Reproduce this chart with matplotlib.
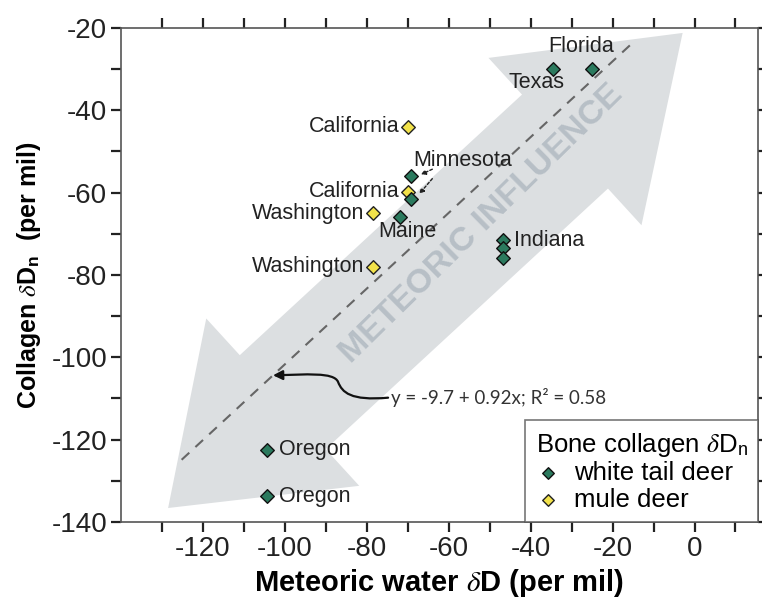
import numpy as np
import matplotlib
matplotlib.use("Agg")
import matplotlib.pyplot as plt
from matplotlib.patches import Polygon, FancyArrowPatch
from matplotlib.path import Path

plt.rcParams['font.family'] = ['Liberation Sans', 'DejaVu Sans']
plt.rcParams['mathtext.fontset'] = 'stix'

# ---- data ----
wt_labels = ["Florida", "Texas", "Minnesota", "", "Maine", "Indiana", "", "", "Oregon", "Oregon"]
wt_x = [-25.0, -34.5, -69.2, -69.2, -72.0, -46.7, -46.7, -46.7, -104.4, -104.4]
wt_y = [-30.0, -30.0, -56.0, -61.5, -66.0, -71.5, -73.5, -75.8, -122.4, -133.8]

md_labels = ["California", "California", "Washington", "Washington"]
md_x = [-70.0, -70.0, -78.5, -78.5]
md_y = [-44.0, -59.8, -65.0, -78.0]

fit_intercept = -9.7
fit_slope = 0.92
fit_r2 = 0.58
fit_xrange = [-125.2, -14.4]

x_ticks = list(range(-130, 11, 10))
x_ticklabels = ["" if t % 20 else str(t) for t in x_ticks]
y_ticks = list(range(-140, -19, 10))
y_ticklabels = ["" if t % 20 else str(t) for t in y_ticks]

GREEN = '#2b7a5e'
YELLOW = '#f2e24a'

fig = plt.figure(figsize=(7.62, 6.04), dpi=100)
ax = fig.add_axes([121/762, 1-522/604, (758-121)/762, (522-28)/604])
ax.set_xlim(-140, 15.5)
ax.set_ylim(-140, -20)

# big double-headed arrow (decoration)
def double_arrow(p0, p1, hw_shaft, hw_head, hl0, hl1):
    p0 = np.array(p0, float); p1 = np.array(p1, float)
    d = p1 - p0
    u = d / np.hypot(*d)
    n = np.array([-u[1], u[0]])
    b0 = p0 + u * hl0
    b1 = p1 - u * hl1
    return [p0, b0 + n*hw_head, b0 + n*hw_shaft, b1 + n*hw_shaft, b1 + n*hw_head,
            p1, b1 - n*hw_head, b1 - n*hw_shaft, b0 - n*hw_shaft, b0 - n*hw_head]

verts = double_arrow((-128.5, -136.6), (-2.9, -21.2), 15.5, 27.6, 38, 39)
ax.add_patch(Polygon(verts, closed=True, facecolor='#dcdfe1', edgecolor='none', zorder=1))
ax.text(-52.0, -67.5, "METEORIC INFLUENCE", rotation=44.5, rotation_mode='anchor',
        ha='center', va='center', fontsize=24.5, fontweight='bold', color='#b7bfc6', zorder=1.5)

# regression line
fx = np.array(fit_xrange)
ax.plot(fx, fit_intercept + fit_slope * fx, ls=(0, (5, 4)), color='#666666', lw=1.5, zorder=2)

# points
ax.scatter(md_x, md_y, marker='D', s=48, facecolor=YELLOW, edgecolor='#222222', linewidth=1.0,
           zorder=3, label='mule deer')
ax.scatter(wt_x, wt_y, marker='D', s=48, facecolor=GREEN, edgecolor='#111111', linewidth=1.0,
           zorder=4, label='white tail deer')

# point labels (offsets in points)
wt_offsets = {0: (-8, 16, 'center'), 1: (-12, -9.5, 'center'), 2: (1.5, 11.5, 'left'),
              4: (-15, -10, 'left'), 5: (8, 0, 'left'), 8: (9, 0, 'left'), 9: (9, 0, 'left')}
for i, lab in enumerate(wt_labels):
    if not lab:
        continue
    dx, dy, ha = wt_offsets[i]
    ax.annotate(lab, (wt_x[i], wt_y[i]), xytext=(dx, dy), textcoords='offset points',
                ha=ha, va='center', fontsize=15.5, color='#222222', zorder=5)
for i, lab in enumerate(md_labels):
    ax.annotate(lab, (md_x[i], md_y[i]), xytext=(-6, 0), textcoords='offset points',
                ha='right', va='center', fontsize=15.5, color='#222222', zorder=5)

# small dashed pointers from Minnesota label
for (x0, y0), (x1, y1) in [((-64.0, -54.3), (-66.8, -55.6)), ((-64.0, -56.6), (-67.2, -60.3))]:
    ax.annotate("", xy=(x1, y1), xytext=(x0, y0),
                arrowprops=dict(arrowstyle='-|>', linestyle=(0, (2, 1.5)), lw=1.0, color='#222222',
                                mutation_scale=7, shrinkA=0, shrinkB=0), zorder=5)

# curved arrow to the regression line
tip_x = -102.9
tip_y = fit_intercept + fit_slope * tip_x
curve = Path([(-74.8, -109.8), (-84.0, -110.6), (-86.0, -108.5), (-87.0, -106.0),
              (-88.0, -103.5), (-95.0, -104.2), (tip_x, tip_y)],
             [Path.MOVETO, Path.CURVE4, Path.CURVE4, Path.CURVE4, Path.CURVE4, Path.CURVE4, Path.CURVE4])
ax.add_patch(FancyArrowPatch(path=curve, arrowstyle='-|>', mutation_scale=14, lw=1.6,
                             color='#111111', zorder=5))
ax.text(-74.2, -109.8, f"y = {fit_intercept} + {fit_slope}x; R² = {fit_r2}",
        family=['Lato', 'DejaVu Sans'], fontsize=13.5, color='#333333', ha='left', va='center', zorder=5)

# axes styling
ax.set_xticks(x_ticks)
ax.set_xticklabels(x_ticklabels)
ax.set_yticks(y_ticks)
ax.set_yticklabels(y_ticklabels)
ax.tick_params(direction='out', length=7, width=1.6, color='#222222', labelsize=20,
               labelcolor='#222222', top=True, right=True, pad=3)
for s in ax.spines.values():
    s.set_color('#555555')
    s.set_linewidth(1.2)

ax.set_xlabel(r"Meteoric water $\delta$D (per mil)", fontsize=21, fontweight='bold', labelpad=4)
ax.set_ylabel(r"Collagen $\delta$D$_\mathregular{n}$  (per mil)", fontsize=18, fontweight='bold', labelpad=6)

handles, labels = ax.get_legend_handles_labels()
leg = ax.legend(handles[::-1], labels[::-1], loc='lower right', bbox_to_anchor=(1.0, 0.0),
                borderaxespad=0.0, title=r"Bone collagen $\delta$D$_\mathregular{n}$",
                fontsize=18.5, title_fontsize=18.5, frameon=True, fancybox=False,
                edgecolor='#555555', handletextpad=0.5, handlelength=1.0, borderpad=0.4,
                labelspacing=0.1, markerscale=0.85, alignment='left')
leg.get_frame().set_linewidth(1.2)
leg.set_zorder(6)

fig.savefig("out.png", dpi=100)
